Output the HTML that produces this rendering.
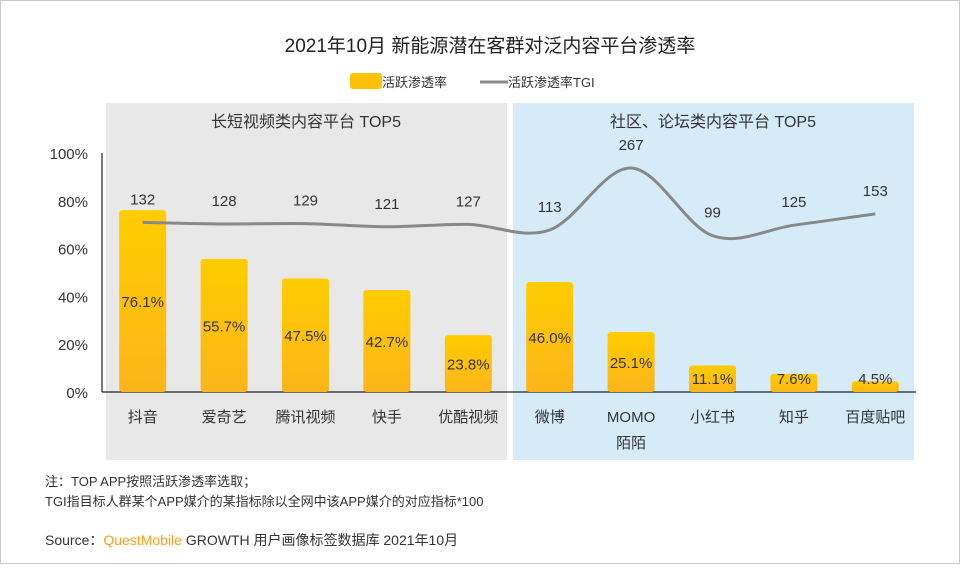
<!DOCTYPE html>
<html><head><meta charset="utf-8"><style>
html,body{margin:0;padding:0;background:#fff}
body{width:960px;height:564px;overflow:hidden;font-family:"Liberation Sans","Noto Sans CJK SC",sans-serif}
svg text{font-family:"Liberation Sans","Noto Sans CJK SC",sans-serif}
</style></head><body>
<svg id="chart" width="960" height="564" viewBox="0 0 960 564" xmlns="http://www.w3.org/2000/svg">
<defs><linearGradient id="bg" x1="0" y1="0" x2="0" y2="1"><stop offset="0" stop-color="#FFCC00"/><stop offset="1" stop-color="#FCB51A"/></linearGradient></defs>
<rect x="0.5" y="0.5" width="959" height="563" fill="#fff" stroke="#c8c8c8"/>
<text x="490" y="52" text-anchor="middle" font-size="19" fill="#222">2021年10月 新能源潜在客群对泛内容平台渗透率</text>
<g>
<rect x="350" y="73" width="32" height="16" rx="3" fill="#FFC107"/>
<text x="382" y="87" font-size="13" fill="#333">活跃渗透率</text>
<line x1="480" y1="82" x2="508" y2="82" stroke="#888" stroke-width="3"/>
<text x="508" y="87" font-size="13" fill="#333">活跃渗透率TGI</text>
</g>
<rect x="106" y="103" width="401" height="357" fill="#e8e8e8"/>
<rect x="513" y="103" width="401" height="357" fill="#d6ebf8"/>
<text x="306" y="127" text-anchor="middle" font-size="16" fill="#333">长短视频类内容平台 TOP5</text>
<text x="713" y="127" text-anchor="middle" font-size="16" fill="#333">社区、论坛类内容平台 TOP5</text>
<g id="axes"></g><g id="bars"></g><g id="line"></g>
<text x="45" y="486" font-size="13" fill="#333">注：TOP APP按照活跃渗透率选取；</text>
<text x="45" y="506" font-size="13" fill="#333">TGI指目标人群某个APP媒介的某指标除以全网中该APP媒介的对应指标*100</text>
<text x="45" y="545" font-size="14" fill="#333">Source：<tspan fill="#F7A21B">QuestMobile</tspan> GROWTH 用户画像标签数据库 2021年10月</text>
</svg>
<script>
const categories=["抖音","爱奇艺","腾讯视频","快手","优酷视频","微博","MOMO|陌陌","小红书","知乎","百度贴吧"];
const penetration=[76.1,55.7,47.5,42.7,23.8,46.0,25.1,11.1,7.6,4.5];
const tgi=[132,128,129,121,127,113,267,99,125,153];
const yTicks=[0,20,40,60,80,100];
const NS="http://www.w3.org/2000/svg";
const X0=102,X1=916,Y0=392,Y100=153;
const bw=(X1-X0)/categories.length;
const xc=i=>X0+bw*(i+0.5);
const yP=v=>Y0-(Y0-Y100)*v/100;
const yT=v=>275.5-0.4026*v;
function mk(t,a,p){const e=document.createElementNS(NS,t);for(const k in a)e.setAttribute(k,a[k]);p.appendChild(e);return e;}
const ax=document.getElementById('axes'),bg=document.getElementById('bars'),lg=document.getElementById('line');
yTicks.forEach(t=>{const e=mk('text',{x:88,y:yP(t)+6,'text-anchor':'end','font-size':15,fill:'#333'},ax);e.textContent=t+'%';

});
let l=mk('line',{x1:X0,y1:Y100,x2:X0,y2:Y0,stroke:'#222','stroke-width':1.2},ax);


l=mk('line',{x1:X0,y1:Y0,x2:X1,y2:Y0,stroke:'#222','stroke-width':1.2},ax);


categories.forEach((c,i)=>{
 const parts=c.split('|');
 parts.forEach((p,j)=>{const e=mk('text',{x:xc(i),y:422+j*26,'text-anchor':'middle','font-size':15,fill:'#333'},ax);e.textContent=p;
 
 });
 const v=penetration[i],top=yP(v);
 const r=mk('rect',{x:xc(i)-23.5,y:top,width:47,height:Y0-top,rx:3,fill:'url(#bg)'},bg);
 
 
 const t=mk('text',{x:xc(i),y:Math.min((top+Y0)/2,Y0-14)+6,'text-anchor':'middle','font-size':15,fill:'#333'},bg);t.textContent=v.toFixed(1)+'%';
 
 
});
const pts=tgi.map((v,i)=>[xc(i),yT(v)]);
let d='M'+pts[0][0]+','+pts[0][1];
for(let i=0;i<pts.length-1;i++){const p0=pts[Math.max(0,i-1)],p1=pts[i],p2=pts[i+1],p3=pts[Math.min(pts.length-1,i+2)];const k=0.5/3*1.0;
 d+=` C${p1[0]+(p2[0]-p0[0])*k},${p1[1]+(p2[1]-p0[1])*k} ${p2[0]-(p3[0]-p1[0])*k},${p2[1]-(p3[1]-p1[1])*k} ${p2[0]},${p2[1]}`;}
const path=mk('path',{d:d,fill:'none',stroke:'#888','stroke-width':3},lg);


tgi.forEach((v,i)=>{const t=mk('text',{x:xc(i),y:yT(v)-18,'text-anchor':'middle','font-size':15,fill:'#333'},lg);t.textContent=v;
 
 });
</script>
</body></html>
